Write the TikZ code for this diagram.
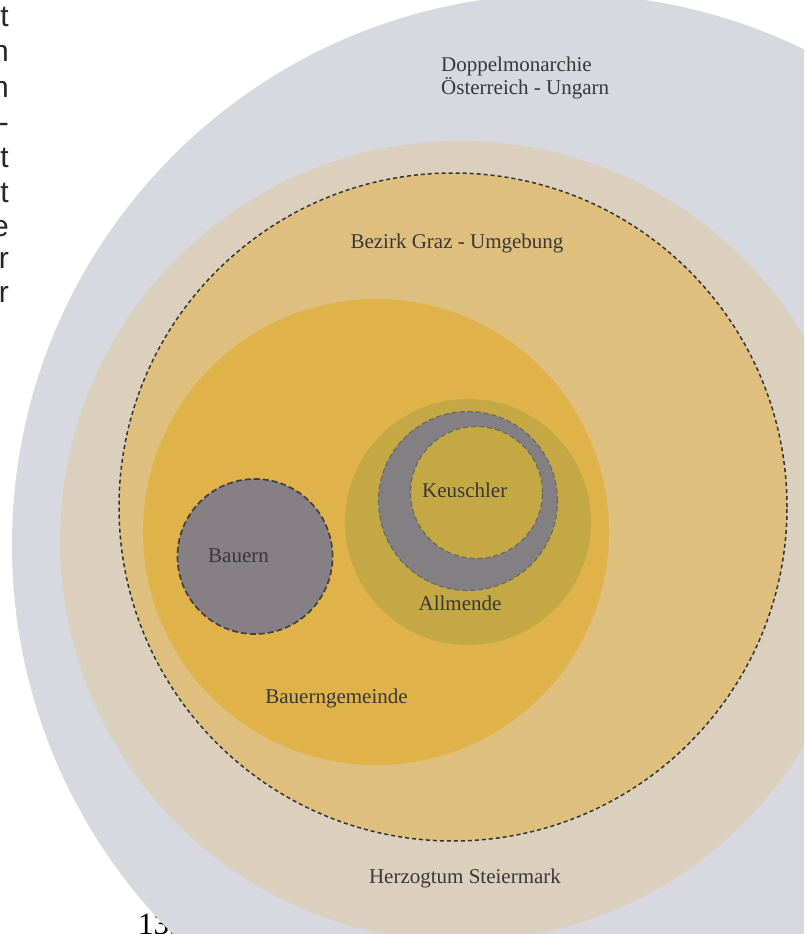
\documentclass[tikz,border=0pt]{standalone}
\usepackage{fontspec}
\setmainfont{Liberation Serif}
\newfontfamily\sidefont{Liberation Sans}
\definecolor{empire}{HTML}{D8D8E0}
\definecolor{duchy}{HTML}{DBD0BE}
\definecolor{district}{HTML}{DFBF7E}
\definecolor{community}{HTML}{E0B24A}
\definecolor{commons}{HTML}{C4A843}
\definecolor{ring}{HTML}{838084}
\definecolor{farmers}{HTML}{868085}
\definecolor{labelgray}{HTML}{383838}
\begin{document}
\begin{tikzpicture}[x=1pt,y=-1pt,
  border/.style={draw=black!80, line width=1.5pt, dash pattern=on 4pt off 3pt},
  darkborder/.style={draw=black!75, line width=1.7pt, dash pattern=on 6pt off 3pt},
  lightborder/.style={draw=black!60, line width=1.1pt, dash pattern=on 5pt off 3pt},
  label/.style={font=\fontsize{21}{24}\selectfont, text=labelgray, inner sep=0pt, anchor=base},
  pagetext/.style={font=\sidefont\fontsize{30}{35}\selectfont, text=black!85, inner sep=0pt, anchor=base east},
]
\useasboundingbox (0,0) rectangle (804,934);
\fill[white] (0,0) rectangle (804,934);
\clip (0,0) rectangle (804,934);

% line ends of the neighbouring text column
\node[pagetext] (l1) at (9,27) {t};
\node[pagetext] (l2) at (9,62) {n};
\node[pagetext] (l3) at (9,97) {n};
\node[pagetext] (l4) at (9,132) {-};
\node[pagetext] (l5) at (9,167) {t};
\node[pagetext] (l6) at (9,202) {t};
\node[pagetext] (l7) at (9,236) {e};
\node[pagetext] (l8) at (9,268) {r};
\node[pagetext] (l9) at (9,302) {r};
% page number
\node[font=\fontsize{31}{32}\selectfont, inner sep=0pt, anchor=base west] (page) at (138,934) {135};

% nested territories
\fill[empire]    (563,545) circle[radius=551pt];
\fill[duchy]     (460,541) circle[radius=400pt];
\path[fill=district, border] (453,507) circle[radius=334pt];
\fill[community] (376,532) circle[radius=233pt];
\fill[commons]   (468,522) circle[radius=123pt];
\path[fill=ring, lightborder]     (468,501) circle[radius=89.5pt];
\path[fill=commons, lightborder]  (476.5,492.5) circle[radius=66pt];
\path[fill=farmers, darkborder]   (255,556.5) circle[radius=77.5pt];

% labels
\node[label, anchor=base west] (dm1) at (441,71.7) {Doppelmonarchie};
\node[label, anchor=base west] (dm2) at (441,95) {Österreich - Ungarn};
\node[label] (bez) at (457,248) {Bezirk Graz - Umgebung};
\node[label] (keu) at (464.7,497.7) {Keuschler};
\node[label] (all) at (460,610.7) {Allmende};
\node[label] (bau) at (238.5,562.3) {Bauern};
\node[label] (bg)  at (336.5,703) {Bauerngemeinde};
\node[label] (hs)  at (465,883) {Herzogtum Steiermark};
\end{tikzpicture}
\end{document}
